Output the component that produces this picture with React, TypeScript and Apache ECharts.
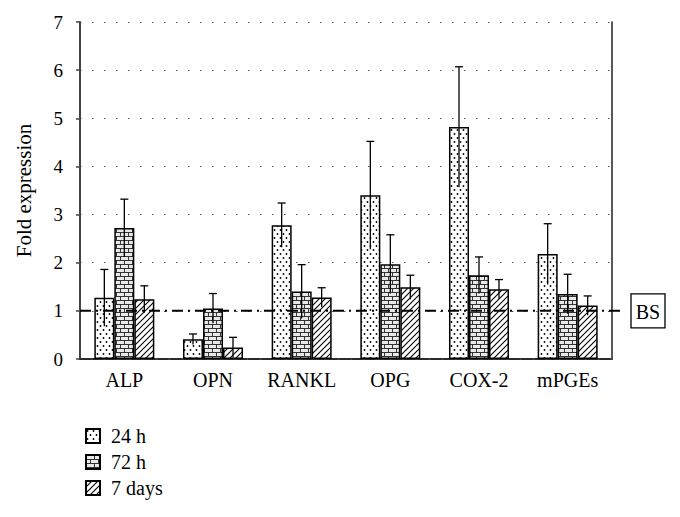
import React, { useEffect, useRef } from "react";
import * as echarts from "echarts";

const categories = ["ALP", "OPN", "RANKL", "OPG", "COX-2", "mPGEs"];
const seriesNames = ["24 h", "72 h", "7 days"];
const values24h = [1.27, 0.41, 2.78, 3.4, 4.82, 2.18];
const values72h = [2.72, 1.05, 1.4, 1.97, 1.74, 1.35];
const values7d = [1.24, 0.24, 1.28, 1.49, 1.45, 1.11];
const errors24h = [0.59, 0.11, 0.46, 1.12, 1.25, 0.63];
const errors72h = [0.6, 0.31, 0.56, 0.61, 0.38, 0.41];
const errors7d = [0.28, 0.21, 0.2, 0.25, 0.2, 0.2];
const baselineValue = 1;
const baselineLabel = "BS";
const yTicks = [0, 1, 2, 3, 4, 5, 6, 7];

const FONT = "'Liberation Serif', 'DejaVu Serif', serif";

function makeCanvas(w: number, h: number, draw: (c: CanvasRenderingContext2D) => void) {
  const cv = document.createElement("canvas");
  cv.width = w;
  cv.height = h;
  const ctx = cv.getContext("2d")!;
  ctx.fillStyle = "#fff";
  ctx.fillRect(0, 0, w, h);
  draw(ctx);
  return { image: cv, repeat: "repeat", imageWidth: w, imageHeight: h } as any;
}

function dotPattern() {
  return makeCanvas(6, 8, (c) => {
    c.fillStyle = "#000";
    c.beginPath();
    c.arc(1.5, 2, 0.9, 0, Math.PI * 2);
    c.fill();
    c.beginPath();
    c.arc(4.5, 6, 0.9, 0, Math.PI * 2);
    c.fill();
  });
}

function brickPattern() {
  return makeCanvas(8, 8, (c) => {
    c.fillStyle = "#9a9a9a";
    c.fillRect(0, 0, 8, 8);
    c.fillStyle = "#e8e8e8";
    c.fillRect(1, 1, 7, 3);
    c.fillRect(0, 5, 4, 3);
    c.fillRect(5, 5, 3, 3);
    c.fillStyle = "#333";
    c.fillRect(0, 0, 8, 1);
    c.fillRect(0, 4, 8, 1);
    c.fillRect(0, 0, 1, 4);
    c.fillRect(4, 4, 1, 4);
  });
}

function hatchPattern() {
  return makeCanvas(6, 6, (c) => {
    c.strokeStyle = "#000";
    c.lineWidth = 1.1;
    c.beginPath();
    c.moveTo(-1, 7);
    c.lineTo(7, -1);
    c.moveTo(-1, 1);
    c.lineTo(1, -1);
    c.moveTo(5, 7);
    c.lineTo(7, 5);
    c.stroke();
  });
}

export default function App() {
  const ref = useRef<HTMLDivElement>(null);
  useEffect(() => {
    document.body.style.margin = "0";
    const chart = echarts.init(ref.current!, null, { renderer: "svg" });
    const patterns = [dotPattern(), brickPattern(), hatchPattern()];
    const valueSets = [values24h, values72h, values7d];
    const errorSets = [errors24h, errors72h, errors7d];
    const barWidth = 20;

    const barSeries = seriesNames.map((name, i) => ({
      name,
      type: "bar",
      data: valueSets[i],
      barWidth,
      barGap: "0%",
      itemStyle: { color: patterns[i], borderColor: "#000", borderWidth: 1.5 },
      z: 3,
    }));

    const errData: number[][] = [];
    valueSets.forEach((vals, s) => {
      vals.forEach((v, c) => errData.push([c, v, errorSets[s][c], s - 1]));
    });

    const errorSeries = {
      type: "custom",
      name: "errors",
      data: errData,
      z: 5,
      silent: true,
      renderItem: (params: any, api: any) => {
        const c = api.value(0);
        const v = api.value(1);
        const e = api.value(2);
        const off = api.value(3);
        const top = api.coord([c, v + e]);
        const bot = api.coord([c, Math.max(0, v - e)]);
        const x = top[0] + off * barWidth;
        return {
          type: "group",
          children: [
            { type: "line", shape: { x1: x, y1: bot[1], x2: x, y2: top[1] }, style: { stroke: "#000", lineWidth: 1.3 } },
            { type: "line", shape: { x1: x - 4, y1: top[1], x2: x + 4, y2: top[1] }, style: { stroke: "#000", lineWidth: 1.3 } },
          ],
        };
      },
    };

    const baselineSeries = {
      type: "custom",
      name: "baseline",
      data: [[baselineValue]],
      z: 4,
      silent: true,
      clip: false,
      renderItem: (params: any, api: any) => {
        const cs = params.coordSys;
        const y = api.coord([0, api.value(0)])[1];
        const xEnd = cs.x + cs.width + 13;
        const boxX = xEnd + 6;
        return {
          type: "group",
          children: [
            {
              type: "line",
              shape: { x1: cs.x, y1: y, x2: xEnd, y2: y },
              style: { stroke: "#000", lineWidth: 2, lineDash: [11, 5, 2, 5] },
            },
            {
              type: "rect",
              shape: { x: boxX, y: y - 17, width: 34, height: 34 },
              style: { fill: "#fff", stroke: "#000", lineWidth: 1.3 },
            },
            {
              type: "text",
              x: boxX + 17,
              y: y + 1,
              style: {
                text: baselineLabel,
                fill: "#000",
                fontSize: 20,
                fontFamily: FONT,
                align: "center",
                verticalAlign: "middle",
              },
            },
          ],
        };
      },
    };

    chart.setOption({
      animation: false,
      textStyle: { fontFamily: FONT },
      grid: { left: 80, right: 68, top: 22, bottom: 158, containLabel: false },
      legend: {
        orient: "vertical",
        left: 80,
        top: 421,
        itemWidth: 14,
        itemHeight: 14,
        itemGap: 6,
        icon: "rect",
        data: seriesNames,
        textStyle: { fontFamily: FONT, fontSize: 20, color: "#000", padding: [0, 0, 0, 6] },
      },
      xAxis: [
        {
          type: "category",
          data: categories,
          axisLine: { show: true, lineStyle: { color: "#222", width: 1.5, type: [10, 3] } },
          axisTick: { show: false },
          axisLabel: { color: "#000", fontSize: 20, fontFamily: FONT, margin: 11, interval: 0 },
          z: 2,
        },
        {
          type: "category",
          data: categories,
          position: "top",
          axisLine: { show: true, lineStyle: { color: "#444", width: 2 } },
          axisTick: { show: false },
          axisLabel: { show: false },
        },
      ],
      yAxis: [
        {
          type: "value",
          min: yTicks[0],
          max: yTicks[yTicks.length - 1],
          interval: 1,
          name: "Fold expression",
          nameLocation: "middle",
          nameGap: 46,
          nameTextStyle: { color: "#000", fontSize: 21, fontFamily: FONT },
          axisLine: { show: true, lineStyle: { color: "#444", width: 2 } },
          axisTick: { show: true, length: 4, lineStyle: { color: "#444", width: 1.5 } },
          axisLabel: { color: "#000", fontSize: 19, fontFamily: FONT, margin: 17 },
          splitLine: { show: true, lineStyle: { color: "#555", width: 1.2, type: [1.5, 10.5] } },
        },
        {
          type: "value",
          min: yTicks[0],
          max: yTicks[yTicks.length - 1],
          interval: 1,
          position: "right",
          axisLine: { show: true, lineStyle: { color: "#222", width: 1.5 } },
          axisTick: { show: false },
          axisLabel: { show: false },
          splitLine: { show: false },
        },
      ],
      series: [...barSeries, errorSeries, baselineSeries],
    } as any);
    return () => chart.dispose();
  }, []);
  return <div ref={ref} style={{ width: 680, height: 517 }} />;
}
